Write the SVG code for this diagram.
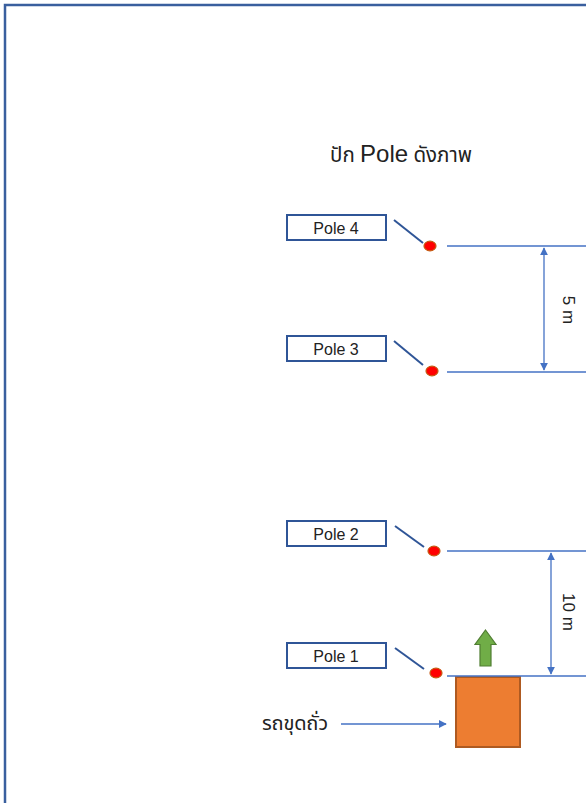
<svg xmlns="http://www.w3.org/2000/svg" width="586" height="803" viewBox="0 0 586 803">
  <defs>
    <style>
      .frame { fill: none; stroke: #3a5f9e; stroke-width: 2.5; }
      .label-box { fill: #ffffff; stroke: #2f5597; stroke-width: 2; }
      .label { font-family: "Liberation Sans", "Noto Sans", sans-serif; font-size: 16px; fill: #222; text-anchor: middle; }
      .leader { stroke: #2f5597; stroke-width: 2; }
      .pole-dot { fill: #ff0000; stroke: #c55a11; stroke-width: 1.2; }
      .ref-line { stroke: #4472c4; stroke-width: 1.3; }
      .dim { stroke: #4472c4; stroke-width: 1.3; fill: none; }
      .dim-text { font-family: "Liberation Sans", "Noto Sans", sans-serif; font-size: 17px; fill: #222; }
      .thai { font-family: "Noto Sans", "Noto Sans Thai", "DejaVu Sans", sans-serif; fill: #222; }
    </style>
    <marker id="arrowHead" viewBox="0 0 10 10" refX="9" refY="5" markerWidth="8" markerHeight="8" markerUnits="userSpaceOnUse" orient="auto-start-reverse">
      <path d="M0,0 L10,5 L0,10 z" fill="#4472c4"/>
    </marker>
  </defs>

  <rect width="586" height="803" fill="#ffffff"/>
  <!-- page frame (open on the right and bottom) -->
  <path class="frame" d="M5,803 V5 H586"/>

  <!-- heading -->
  <text x="401" y="162" text-anchor="middle" class="thai" font-size="20.5"><tspan>ปัก </tspan><tspan font-family="Liberation Sans, sans-serif" font-size="24">Pole</tspan><tspan> ดังภาพ</tspan></text>

  <g id="pole-4">
    <rect class="label-box" x="287" y="215" width="99" height="25"/>
    <text class="label" x="336" y="233.5">Pole 4</text>
    <line class="leader" x1="394" y1="220" x2="423" y2="243"/>
    <ellipse class="pole-dot" cx="430" cy="246" rx="6" ry="4.8"/>
  </g>
  <g id="pole-3">
    <rect class="label-box" x="287" y="336" width="99" height="25"/>
    <text class="label" x="336" y="354.5">Pole 3</text>
    <line class="leader" x1="394" y1="341" x2="423" y2="365"/>
    <ellipse class="pole-dot" cx="432" cy="371" rx="6" ry="4.8"/>
  </g>
  <g id="pole-2">
    <rect class="label-box" x="287" y="521" width="99" height="25"/>
    <text class="label" x="336" y="539.5">Pole 2</text>
    <line class="leader" x1="395" y1="526" x2="424" y2="547"/>
    <ellipse class="pole-dot" cx="434" cy="551" rx="6" ry="4.8"/>
  </g>
  <g id="pole-1">
    <rect class="label-box" x="287" y="643" width="99" height="25"/>
    <text class="label" x="336" y="661.5">Pole 1</text>
    <line class="leader" x1="395" y1="648" x2="424" y2="669"/>
    <ellipse class="pole-dot" cx="436" cy="673" rx="6" ry="4.8"/>
  </g>

  <g id="excavator">
    <rect x="456" y="677" width="64" height="70" fill="#ed7d31" stroke="#ae5a21" stroke-width="2"/>
    <path d="M485.5,630 L496,644.5 L491,644.5 L491,666 L480,666 L480,644.5 L475,644.5 z" fill="#70ad47" stroke="#507e32" stroke-width="1.2"/>
  </g>
  <g id="excavator-label">
    <text class="thai" x="262" y="730" font-size="20" textLength="66">รถขุดถั่ว</text>
  </g>

  <g id="connectors">
    <line class="ref-line" x1="447" y1="246" x2="586" y2="246"/>
    <line class="ref-line" x1="447" y1="372" x2="586" y2="372"/>
    <line class="ref-line" x1="447" y1="551" x2="586" y2="551"/>
    <line class="ref-line" x1="447" y1="676" x2="586" y2="676"/>
    <line class="dim" x1="544" y1="248" x2="544" y2="370" marker-start="url(#arrowHead)" marker-end="url(#arrowHead)"/>
    <line class="dim" x1="551" y1="553" x2="551" y2="674" marker-start="url(#arrowHead)" marker-end="url(#arrowHead)"/>
    <line class="dim" x1="341" y1="724" x2="446" y2="724" marker-end="url(#arrowHead)"/>
  </g>

  <text class="dim-text" transform="translate(563,310) rotate(90)" text-anchor="middle">5 m</text>
  <text class="dim-text" transform="translate(563,612) rotate(90)" text-anchor="middle">10 m</text>
</svg>
